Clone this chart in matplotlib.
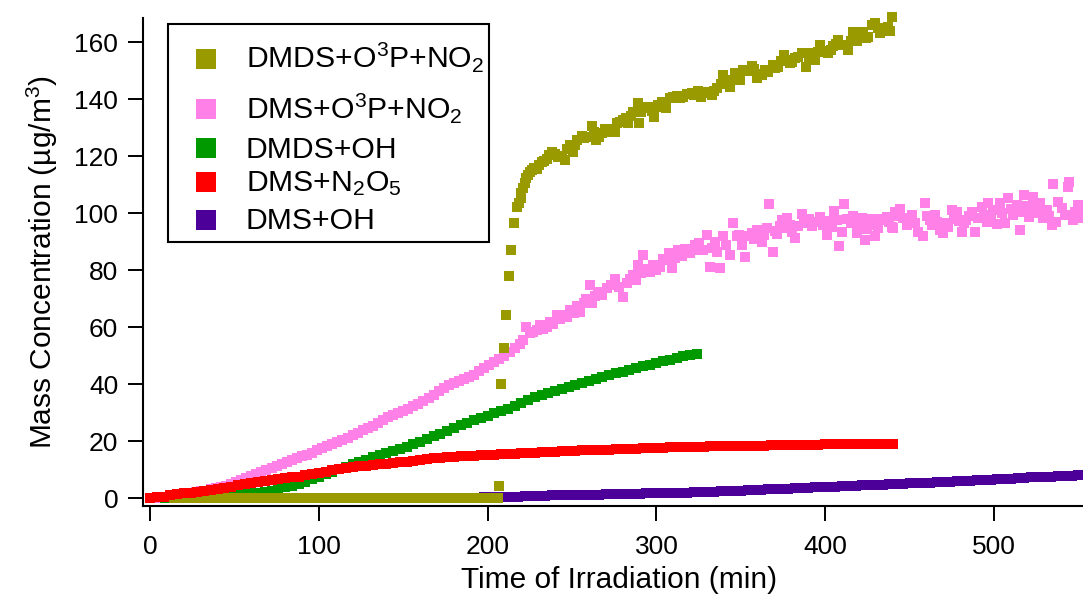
import numpy as np
import matplotlib
matplotlib.use("Agg")
import matplotlib.pyplot as plt
from matplotlib.lines import Line2D
from matplotlib.patches import Rectangle

plt.rcParams["font.family"] = ["Liberation Sans", "DejaVu Sans"]
plt.rcParams["mathtext.fontset"] = "custom"
plt.rcParams["mathtext.rm"] = "Liberation Sans"
plt.rcParams["mathtext.it"] = "Liberation Sans:italic"
plt.rcParams["mathtext.bf"] = "Liberation Sans:bold"
plt.rcParams["mathtext.default"] = "regular"

# ---------------- data (time in min, mass concentration in ug/m3) ----------------
# DMS + N2O5, sampled every 4 min from 0 to 440
red_t = np.arange(0, 441, 4)
red_v = [0.0, 0.3, 0.6, 1.0, 1.4, 1.7, 2.0, 2.3, 2.6, 2.9,
         3.3, 3.7, 4.1, 4.6, 5.0, 5.3, 5.7, 6.0, 6.3, 6.7,
         7.0, 7.3, 7.6, 8.1, 8.5, 8.9, 9.3, 9.8, 10.2, 10.6,
         10.9, 11.2, 11.5, 11.8, 12.0, 12.2, 12.4, 12.6, 12.9, 13.2,
         13.5, 13.8, 14.0, 14.2, 14.4, 14.6, 14.8, 14.9, 15.0, 15.1,
         15.2, 15.3, 15.4, 15.6, 15.7, 15.8, 15.9, 16.0, 16.1, 16.3,
         16.4, 16.5, 16.6, 16.7, 16.8, 16.9, 17.0, 17.0, 17.1, 17.2,
         17.2, 17.3, 17.4, 17.5, 17.6, 17.7, 17.8, 17.9, 17.9, 18.0,
         18.0, 18.1, 18.1, 18.2, 18.2, 18.3, 18.3, 18.4, 18.4, 18.5,
         18.5, 18.5, 18.6, 18.6, 18.7, 18.7, 18.7, 18.8, 18.8, 18.8,
         18.9, 18.9, 18.9, 19.0, 18.9, 19.0, 19.1, 19.1, 19.1, 19.2,
         19.1]

# DMDS + OH, every 4 min from 0 to 324
green_t = np.arange(0, 325, 4)
green_v = [0.0, 0.0, 0.0, 0.1, 0.1, 0.2, 0.2, 0.3, 0.3, 0.4,
           0.5, 0.7, 0.9, 1.1, 1.4, 1.7, 2.0, 2.3, 2.7, 3.2,
           3.8, 4.4, 5.0, 5.8, 6.6, 7.4, 8.4, 9.3, 10.2, 11.1,
           12.0, 12.8, 13.6, 14.4, 15.1, 15.8, 16.6, 17.3, 18.1, 18.9,
           19.8, 20.8, 21.7, 22.6, 23.6, 24.6, 25.6, 26.6, 27.6, 28.3,
           29.0, 29.8, 30.6, 31.5, 32.4, 33.4, 34.4, 35.4, 36.2, 37.0,
           37.8, 38.5, 39.2, 39.9, 40.6, 41.3, 42.0, 42.7, 43.3, 43.9,
           44.5, 45.1, 45.7, 46.3, 46.9, 47.5, 48.1, 48.7, 49.3, 49.8,
           50.3, 50.8]

# DMS + OH, every 4 min from 170 to 554
purple_t = np.arange(170, 555, 4)
purple_v = [0.0, 0.0, 0.1, 0.1, 0.2, 0.2, 0.2, 0.3, 0.3, 0.4,
            0.4, 0.5, 0.6, 0.7, 0.8, 0.8, 0.9, 1.0, 1.0, 1.1,
            1.1, 1.2, 1.2, 1.3, 1.3, 1.4, 1.4, 1.5, 1.5, 1.6,
            1.6, 1.7, 1.7, 1.8, 1.8, 1.9, 1.9, 2.0, 2.1, 2.1,
            2.2, 2.3, 2.4, 2.5, 2.6, 2.7, 2.8, 2.9, 3.0, 3.1,
            3.2, 3.3, 3.4, 3.5, 3.6, 3.7, 3.8, 3.9, 4.0, 4.1,
            4.2, 4.3, 4.4, 4.5, 4.6, 4.7, 4.8, 4.9, 5.0, 5.1,
            5.2, 5.3, 5.4, 5.5, 5.6, 5.7, 5.8, 5.9, 6.0, 6.2,
            6.3, 6.4, 6.5, 6.6, 6.8, 6.9, 7.0, 7.1, 7.3, 7.4,
            7.5, 7.6, 7.8, 7.9, 8.0, 8.1, 8.2]

# DMDS + O(3P) + NO2: baseline before the lamps, then the fast rise
olive_base_t = np.arange(14, 207, 4)
olive_base_v = [0.0] * 49
olive_t = [207.0, 208.0, 209.9, 210.9, 212.9, 213.7, 215.8, 217.2, 218.8, 219.5,
           220.0, 221.0, 222.2, 223.0, 224.2, 225.0, 226.1, 227.5, 229.0, 230.5,
           232.0, 233.5, 235.0, 236.5, 238.0, 240.0, 241.9, 244.0, 245.9, 247.0,
           248.8, 250.8, 252.0, 253.2, 255.8, 257.0, 259.7, 261.7, 263.0, 264.2,
           266.0, 267.6, 269.5, 271.5, 273.5, 275.5, 276.5, 278.5, 280.4, 282.0,
           283.4, 285.0, 286.3, 288.9, 289.9, 291.0, 292.2, 294.0, 295.8, 297.5,
           298.8, 300.0, 301.1, 303.5, 305.7, 308.0, 310.0, 312.0, 314.0, 316.0,
           318.0, 320.9, 322.5, 324.8, 326.5, 327.8, 330.0, 332.7, 334.0, 335.7,
           338.0, 339.7, 341.5, 343.6, 345.0, 346.6, 348.0, 349.5, 351.5, 354.0,
           356.5, 357.8, 359.4, 361.0, 362.4, 364.5, 366.3, 368.9, 370.5, 372.2,
           374.0, 375.6, 377.5, 379.1, 380.5, 382.1, 384.0, 386.1, 388.6, 390.5,
           392.0, 394.0, 395.5, 396.9, 399.0, 401.8, 403.5, 404.8, 406.5, 407.7,
           410.0, 413.3, 415.0, 416.7, 418.6, 420.5, 422.6, 424.0, 425.5, 427.5,
           429.5, 431.0, 432.5, 434.0, 435.4, 437.0, 438.4, 439.8]
olive_v = [4.3, 40.0, 52.9, 64.5, 78.0, 87.1, 96.8, 102.4, 103.6, 105.5,
           107.3, 109.0, 110.8, 112.5, 113.5, 114.5, 115.3, 116.0, 115.5, 117.0,
           118.2, 118.5, 119.0, 120.5, 121.7, 120.8, 119.9, 120.2, 118.8, 122.5,
           124.1, 121.7, 124.0, 125.8, 127.2, 126.5, 127.0, 130.7, 128.5, 125.8,
           127.0, 128.4, 129.5, 128.7, 129.8, 128.7, 131.9, 132.0, 132.8, 133.5,
           131.9, 134.2, 135.7, 138.9, 131.7, 135.5, 136.9, 137.5, 136.9, 136.0,
           133.8, 137.2, 138.1, 139.0, 136.9, 140.4, 141.0, 141.3, 140.5, 140.8,
           141.8, 142.2, 141.5, 142.8, 141.0, 142.2, 142.5, 141.6, 143.0, 144.0,
           145.5, 148.6, 146.0, 144.5, 147.0, 149.4, 148.0, 146.9, 150.4, 150.0,
           151.8, 150.8, 147.5, 149.0, 148.6, 150.5, 149.8, 152.1, 151.0, 151.5,
           153.5, 155.7, 154.0, 152.7, 153.0, 154.5, 155.0, 156.3, 151.5, 154.5,
           156.3, 153.9, 156.5, 159.2, 157.0, 156.3, 157.5, 158.6, 159.5, 160.9,
           159.0, 157.4, 160.5, 163.8, 160.7, 162.0, 163.8, 161.5, 162.1, 166.2,
           167.0, 165.0, 163.3, 164.5, 164.2, 165.5, 164.2, 169.1]

# DMS + O(3P) + NO2: smooth early part every 3 min, then scattered points
pink_early_t = np.arange(0, 220, 3)
pink_early_v = [0.0, 0.1, 0.3, 0.5, 0.8, 1.0, 1.2, 1.5, 1.8, 2.1,
                2.4, 2.7, 3.1, 3.5, 3.9, 4.4, 5.0, 5.7, 6.4, 7.1,
                7.9, 8.6, 9.3, 10.0, 10.8, 11.5, 12.2, 12.9, 13.5, 14.1,
                14.7, 15.3, 16.0, 16.8, 17.5, 18.3, 19.0, 19.7, 20.5, 21.3,
                22.1, 22.9, 23.8, 24.6, 25.5, 26.6, 27.6, 28.5, 29.3, 30.0,
                30.7, 31.5, 32.3, 33.2, 34.1, 35.1, 36.3, 37.5, 38.6, 39.7,
                40.6, 41.3, 42.0, 42.6, 43.4, 44.6, 45.8, 46.9, 47.9, 49.0,
                50.0, 51.3, 52.6, 54.0]
pink_t = [221.0, 223.0, 225.0, 227.0, 229.0, 231.0, 233.0, 235.0, 237.0, 239.0,
          241.0, 243.0, 245.0, 247.0, 249.0, 251.0, 253.0, 255.0, 257.0, 258.5,
          260.7, 262.0, 263.5, 265.5, 268.0, 270.5, 273.0, 275.5, 278.0, 280.4,
          282.5, 284.5, 286.3, 288.0, 289.3, 291.0, 292.2, 294.0, 296.2, 298.0,
          300.0, 302.1, 304.0, 306.1, 307.5, 309.0, 311.0, 313.0, 315.0, 317.0,
          320.0, 321.9, 322.9, 325.5, 327.5, 329.8, 331.8, 333.0, 334.7, 336.0,
          337.7, 339.7, 341.5, 343.6, 345.5, 347.5, 349.0, 350.5, 352.4, 354.4,
          356.5, 358.0, 359.4, 361.0, 362.4, 364.0, 365.3, 366.9, 368.9, 370.3,
          371.6, 373.0, 374.2, 375.8, 377.5, 379.0, 380.1, 382.1, 384.0, 386.1,
          387.5, 389.0, 390.5, 392.0, 394.5, 396.9, 398.5, 400.9, 402.5, 403.8,
          405.2, 406.8, 408.2, 409.8, 411.0, 413.1, 415.0, 416.7, 418.6, 420.6,
          422.0, 423.6, 425.0, 426.5, 428.0, 429.5, 431.0, 432.5, 434.4, 436.4,
          438.0, 439.4, 440.4, 441.4, 442.3, 444.3, 446.0, 448.3, 449.8, 451.2,
          453.0, 455.2, 457.8, 459.1, 460.5, 462.1, 463.5, 465.1, 466.5, 468.0,
          470.0, 471.5, 473.0, 474.9, 476.5, 477.9, 479.5, 480.8, 482.0, 483.4,
          485.0, 486.8, 488.7, 490.7, 492.7, 494.0, 495.6, 496.6, 498.0, 499.6,
          501.6, 503.6, 505.0, 506.5, 508.5, 510.0, 511.4, 513.4, 515.4, 516.5,
          517.8, 519.5, 520.9, 522.0, 523.3, 524.3, 525.8, 527.3, 529.2, 531.2,
          532.5, 534.2, 534.7, 536.7, 538.1, 540.0, 542.0, 544.0, 544.6, 546.6,
          548.0, 549.5, 550.6, 551.0]
pink_v = [55.5, 60.3, 57.9, 58.5, 59.0, 60.8, 59.3, 60.3, 62.0, 61.2,
          64.4, 63.0, 64.4, 63.5, 66.0, 65.0, 67.5, 65.5, 68.5, 70.0,
          74.9, 68.5, 71.0, 72.5, 71.5, 73.7, 75.0, 76.9, 74.0, 70.8,
          75.5, 77.0, 78.4, 76.5, 81.9, 79.0, 85.4, 80.5, 79.6, 82.0,
          80.0, 81.3, 84.0, 83.7, 86.0, 80.8, 84.5, 87.2, 85.0, 87.5,
          86.0, 87.2, 88.9, 89.5, 87.0, 92.5, 81.3, 88.0, 90.1, 86.5,
          80.8, 91.9, 89.0, 85.4, 96.8, 91.9, 92.5, 88.9, 84.8, 91.9,
          93.0, 91.0, 94.2, 93.5, 90.1, 92.5, 94.8, 103.2, 86.6, 94.0,
          92.8, 95.5, 97.7, 95.0, 98.3, 96.0, 93.6, 91.5, 95.5, 99.8,
          97.0, 96.6, 98.0, 95.6, 97.0, 98.9, 96.0, 92.5, 97.5, 95.4,
          101.0, 97.7, 88.7, 93.6, 103.2, 98.0, 96.5, 99.1, 93.3, 96.6,
          98.5, 90.7, 94.5, 96.0, 98.0, 92.1, 95.0, 98.0, 97.7, 98.9,
          97.0, 95.4, 94.8, 100.6, 99.0, 101.5, 98.5, 96.0, 97.5, 99.5,
          96.5, 93.6, 92.1, 103.8, 99.0, 97.7, 96.0, 99.5, 97.0, 94.2,
          93.0, 96.5, 95.4, 101.2, 98.0, 100.6, 97.5, 93.6, 96.5, 97.7,
          99.0, 100.6, 93.6, 98.3, 102.4, 99.5, 97.1, 103.6, 99.0, 101.2,
          96.3, 103.6, 100.0, 96.8, 105.3, 101.5, 99.5, 103.0, 94.2, 100.5,
          106.5, 102.5, 98.9, 101.0, 105.9, 103.0, 100.0, 103.6, 98.3, 101.2,
          99.0, 96.0, 110.4, 97.1, 104.1, 101.8, 99.5, 109.2, 111.1, 97.7,
          100.6, 103.0, 101.8, 98.3]

labels = [r"DMDS+O$^{3}$P+NO$_{2}$", r"DMS+O$^{3}$P+NO$_{2}$", "DMDS+OH",
          r"DMS+N$_{2}$O$_{5}$", "DMS+OH"]
colors = ["#999900", "#ff80e6", "#009900", "#ff0000", "#4c0099"]
x_ticks = [0, 100, 200, 300, 400, 500]
y_ticks = [0, 20, 40, 60, 80, 100, 120, 140, 160]

# ---------------- figure ----------------
W, H = 1083, 597
fig = plt.figure(figsize=(W / 100, H / 100), dpi=100)
ax = fig.add_axes([143 / W, 1 - 505.7 / H, (W - 143) / W, (505.7 - 18) / H])

ms = 6.5
kw = dict(ls="none", marker="s", ms=ms, mew=0, clip_on=False)
ax.plot(purple_t, purple_v, color=colors[4], zorder=2, **kw)
ax.plot(green_t, green_v, color=colors[2], zorder=3, **kw)
ax.plot(pink_early_t, pink_early_v, color=colors[1], zorder=4, **kw)
ax.plot(pink_t, pink_v, color=colors[1], zorder=4, **kw)
ax.plot(olive_base_t, olive_base_v, color=colors[0], zorder=5, **kw)
ax.plot(olive_t, olive_v, color=colors[0], zorder=5, **kw)
ax.plot(red_t, red_v, color=colors[3], zorder=6, **kw)

ax.set_xlim(-4.15, 552.7)
ax.set_ylim(-2.6, 168.6)
ax.set_xticks(x_ticks)
ax.set_yticks(y_ticks)
for s in ("top", "right"):
    ax.spines[s].set_visible(False)
for s in ("left", "bottom"):
    ax.spines[s].set_linewidth(1.5)
ax.tick_params(direction="out", length=10.8, width=1.4, labelsize=19)
ax.tick_params(axis="x", pad=10.5)
ax.tick_params(axis="y", pad=7)

ax.set_xlabel("Time of Irradiation (min)", fontsize=21.5, va="baseline")
ax.xaxis.set_label_coords((619 - 143) / 940, -(588 - 505.7) / 487.7)
ax.set_ylabel(r"Mass Concentration (µg/m$^{3}$)", fontsize=21.5, va="baseline")
ax.yaxis.set_label_coords(-(143 - 52) / 940, 0.5)

# ---------------- legend box ----------------
def fx(px):
    return px / W


def fy(py):
    return 1 - py / H


fig.add_artist(Rectangle((fx(168), fy(242)), fx(489) - fx(168), fy(24) - fy(242),
                         transform=fig.transFigure, facecolor="white",
                         edgecolor="black", lw=1.5, zorder=10))
marker_y = [59.3, 109.3, 148.3, 181.7, 220.3]
base_y = [67.3, 118.3, 157.7, 191.0, 229.3]
for lab, col, my, by in zip(labels, colors, marker_y, base_y):
    fig.add_artist(Line2D([fx(206)], [fy(my)], transform=fig.transFigure,
                          marker="s", ms=13.7, mew=0, color=col, ls="none", zorder=11))
    fig.text(fx(246), fy(by), lab, fontsize=21.7, va="baseline", ha="left", zorder=11)

fig.savefig("out.png", dpi=100)
